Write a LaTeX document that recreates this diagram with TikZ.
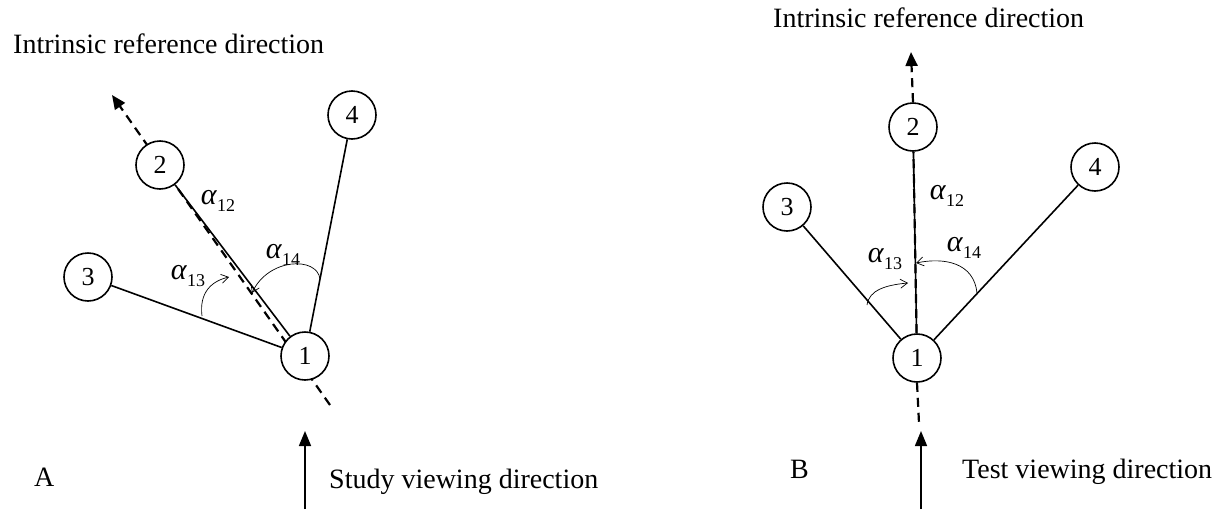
\documentclass[tikz,border=0pt]{standalone}
\usepackage{fontspec}
\setmainfont{Liberation Serif}
\usetikzlibrary{arrows.meta,backgrounds}
\newcommand{\angl}[1]{\textit{α}\raisebox{-0.25em}{\fontsize{18}{20}\selectfont #1}}
\tikzset{
  circ/.style={circle,draw,line width=1.6pt,fill=white,minimum size=48pt,inner sep=0pt,font=\fontsize{26}{30}\selectfont},
  link/.style={line width=1.6pt},
  refdir/.style={line width=2.2pt,dash pattern=on 9pt off 6pt,-{Triangle[length=14pt,width=12pt]}},
  refdirplain/.style={line width=2.2pt,dash pattern=on 9pt off 6pt},
  viewarrow/.style={line width=1.6pt,-{Triangle[length=15pt,width=12pt]}},
  angarrow/.style={line width=0.7pt,-{Straight Barb[length=7pt,width=9pt]}},
  lbl/.style={font=\fontsize{28}{32}\selectfont,inner sep=0pt,anchor=base west},
  alab/.style={font=\fontsize{30}{34}\selectfont,inner sep=0pt}
}
\begin{document}
\begin{tikzpicture}[x=1pt,y=-1pt]
\useasboundingbox (0,0) rectangle (1229,509);
% ---------- Panel A ----------
\node[circ] (A1) at (305,356) {1};
\node[circ] (A2) at (160,165) {2};
\node[circ] (A3) at (88,277) {3};
\node[circ] (A4) at (352,115) {4};
\coordinate (Atip) at (112,95);
\coordinate (Aend) at (330,405);
\coordinate (Avs) at (305,509);
\coordinate (Ave) at (305,431);
\begin{pgfonlayer}{background}
\draw[refdir] (Aend) -- (Atip);
\end{pgfonlayer}
\draw[link] (A1) -- (A2);
\draw[link] (A1) -- (A3);
\draw[link] (A1) -- (A4);
\coordinate (A13s) at (202,316);
\coordinate (A13e) at (229,277);
\coordinate (A14s) at (320,279);
\coordinate (A14e) at (252,293);
\draw[angarrow] (A13s) .. controls (199,292) and (212,281) .. (A13e);
\draw[angarrow] (A14s) .. controls (317,256) and (268,258) .. (A14e);
\node[alab] (Aa12) at (218,201) {\angl{12}};
\node[alab] (Aa13) at (188,276) {\angl{13}};
\node[alab] (Aa14) at (283,255) {\angl{14}};
\draw[viewarrow] (Avs) -- (Ave);
\node[lbl] (Atitle) at (13,53) {Intrinsic reference direction};
\node[lbl] (Aletter) at (34,486) {A};
\node[lbl] (Aview) at (329,488) {Study viewing direction};
% ---------- Panel B ----------
\node[circ] (B1) at (917,358) {1};
\node[circ] (B2) at (913,127) {2};
\node[circ] (B3) at (787,207) {3};
\node[circ] (B4) at (1095,167) {4};
\coordinate (Btip) at (911,52);
\coordinate (Bend) at (919,423);
\coordinate (Bvs) at (921,509);
\coordinate (Bve) at (921,431);
\begin{pgfonlayer}{background}
\draw[refdir] (B2.north) -- (Btip);
\draw[refdirplain] (B1.south) -- (Bend);
\draw[refdirplain] (B1) -- (B2);
\end{pgfonlayer}
\draw[link] (B1) -- (B2);
\draw[link] (B1) -- (B3);
\draw[link] (B1) -- (B4);
\coordinate (B13s) at (867,305);
\coordinate (B13e) at (908,283);
\coordinate (B14s) at (977,293);
\coordinate (B14e) at (916,263);
\draw[angarrow] (B13s) .. controls (869,290) and (886,285) .. (B13e);
\draw[angarrow] (B14s) .. controls (974,263) and (945,257) .. (B14e);
\node[alab] (Ba12) at (947,196) {\angl{12}};
\node[alab] (Ba13) at (885,259) {\angl{13}};
\node[alab] (Ba14) at (964,248) {\angl{14}};
\draw[viewarrow] (Bvs) -- (Bve);
\node[lbl] (Btitle) at (773,27) {Intrinsic reference direction};
\node[lbl] (Bletter) at (790,478) {B};
\node[lbl] (Bview) at (962,478) {Test viewing direction};
\end{tikzpicture}
\end{document}
